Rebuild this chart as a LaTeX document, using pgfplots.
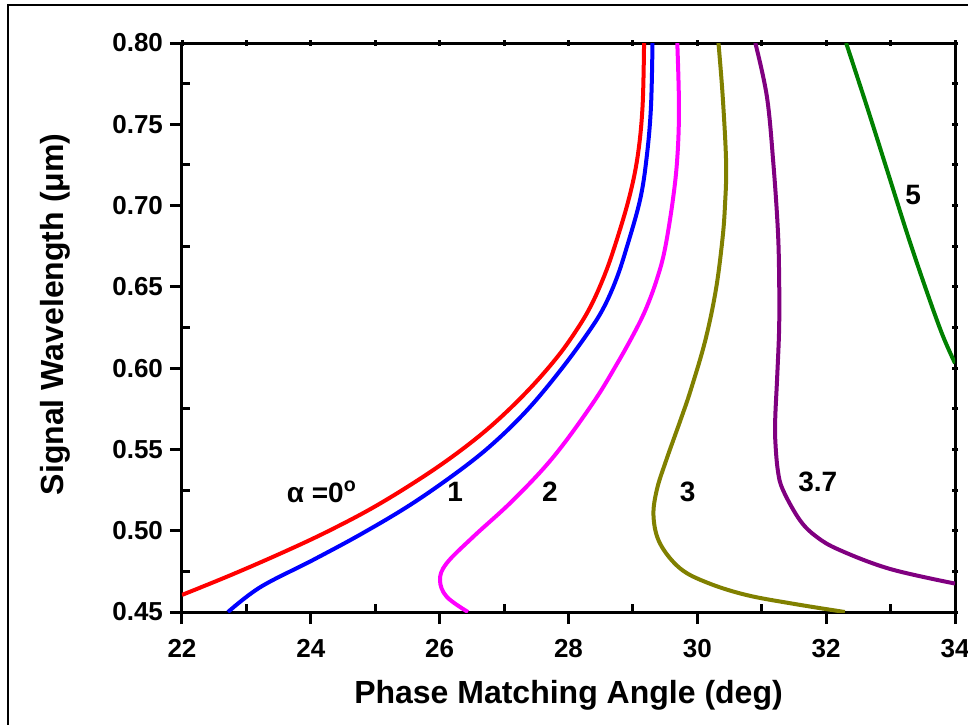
\documentclass[border=0pt]{standalone}
\usepackage{fontspec}
\setmainfont{Liberation Sans}
\usepackage{pgfplots}
\pgfplotsset{compat=1.18}
\usetikzlibrary{calc}

\definecolor{cred}{RGB}{255,0,0}
\definecolor{cblue}{RGB}{0,0,255}
\definecolor{cmag}{RGB}{255,0,255}
\definecolor{colive}{RGB}{128,128,0}
\definecolor{cpurp}{RGB}{128,0,128}
\definecolor{cgreen}{RGB}{0,128,0}

\begin{document}
\begin{tikzpicture}
\pgfplotsset{
  base/.style={
    scale only axis, width=386.5pt, height=284.5pt,
    xmin=22, xmax=34, ymin=0.45, ymax=0.80,
    axis line style={line width=1.5pt},
    every tick/.style={black, line width=1.5pt},
  },
  curve/.style={line width=2pt, smooth, tension=0.6, no marks, #1},
}
% top and right sides
\begin{axis}[base,
  axis x line*=top, axis y line*=right,
  xtick={22,23,...,34}, ytick={0.45,0.475,...,0.81},
  xticklabels={}, yticklabels={},
  tick align=center, major tick length=3pt,
]
\end{axis}
% bottom and left sides with data
\begin{axis}[base, name=ax,
  axis x line*=bottom, axis y line*=left,
  xtick={22,24,...,34}, ytick={0.45,0.50,...,0.81},
  minor x tick num=1, minor y tick num=1,
  tick align=outside, major tick length=6pt, minor tick length=-4pt,
  tick label style={font=\bfseries\fontsize{13}{15}\selectfont},
  xticklabel style={yshift=-4pt},
  /pgf/number format/assume math mode=true,
  y tick label style={/pgf/number format/.cd, fixed, fixed zerofill, precision=2},
  label style={font=\bfseries\fontsize{16}{19}\selectfont},
  xlabel={Phase Matching Angle (deg)},
  ylabel={Signal Wavelength (μm)},
  xlabel shift=4.5pt, ylabel shift=14pt,
  ylabel style={at={(ticklabel cs:0.523)}},
]
% alpha = 0
\addplot[curve=cred] coordinates {
  (22.000,0.4605) (22.763,0.4728) (23.552,0.4864) (24.243,0.4992) (24.982,0.5146)
  (25.736,0.5330) (26.334,0.5496) (26.852,0.5663) (27.380,0.5866) (27.827,0.6069)
  (28.126,0.6235) (28.338,0.6376) (28.529,0.6542) (28.699,0.6727) (28.932,0.7034)
  (29.072,0.7299) (29.149,0.7606) (29.173,0.80)
};
% 1
\addplot[curve=cblue] coordinates {
  (22.714,0.4500) (23.220,0.4654) (24.034,0.4820) (24.810,0.4986) (25.586,0.5170)
  (26.362,0.5386) (26.890,0.5558) (27.402,0.5761) (27.914,0.6007) (28.333,0.6235)
  (28.551,0.6376) (28.737,0.6542) (28.892,0.6727) (29.110,0.7034) (29.214,0.7299)
  (29.280,0.7606) (29.304,0.80)
};
% 2
\addplot[curve=cmag] coordinates {
  (26.44,0.450) (26.109,0.4594) (26.005,0.4697) (26.109,0.4800) (26.522,0.4963)
  (27.143,0.5189) (27.768,0.5455) (28.377,0.5784) (28.758,0.6030) (29.045,0.6235)
  (29.214,0.6376) (29.368,0.6542) (29.494,0.6727) (29.620,0.7034) (29.690,0.7299)
  (29.715,0.7606) (29.689,0.80)
};
% 3
\addplot[curve=colive] coordinates {
  (32.29,0.450) (31.50,0.4550) (30.757,0.4605) (30.157,0.4680) (29.73,0.4769)
  (29.42,0.4922) (29.32,0.5086) (29.37,0.525) (29.518,0.5435) (29.739,0.5681)
  (29.898,0.5866) (30.123,0.617) (30.287,0.648) (30.389,0.679) (30.429,0.700)
  (30.447,0.726) (30.394,0.767) (30.328,0.80)
};
% 3.7
\addplot[curve=cpurp] coordinates {
  (34,0.4675) (32.99,0.4765) (32.21,0.4881) (31.85,0.4963) (31.59,0.5066)
  (31.33,0.525) (31.25,0.537) (31.21,0.5558) (31.21,0.570) (31.24,0.595)
  (31.27,0.625) (31.27,0.655) (31.25,0.685) (31.18,0.726) (31.08,0.767)
  (30.90,0.80)
};
% 5
\addplot[curve=cgreen] coordinates {
  (32.31,0.80) (32.64,0.76) (32.96,0.72) (33.28,0.68) (33.58,0.645)
  (33.81,0.62) (34.0,0.603)
};
\begin{scope}[every node/.style={font=\bfseries\fontsize{14}{16}\selectfont}]
\node at (axis cs:24.17,0.5238) {α =0\textsuperscript{o}};
\node at (axis cs:26.24,0.5238) {1};
\node at (axis cs:27.71,0.5238) {2};
\node at (axis cs:29.85,0.5238) {3};
\node at (axis cs:31.87,0.530) {3.7};
\node at (axis cs:33.35,0.7065) {5};
\end{scope}
\end{axis}
\draw[line width=1pt] ($(ax.south west)+(-87pt,-70pt)$) |- ($(ax.north east)+(20pt,19pt)$);
\pgfresetboundingbox
\path[use as bounding box] ($(ax.south west)+(-91pt,-56pt)$) rectangle ($(ax.north east)+(6.5pt,21.5pt)$);
\end{tikzpicture}
\end{document}
